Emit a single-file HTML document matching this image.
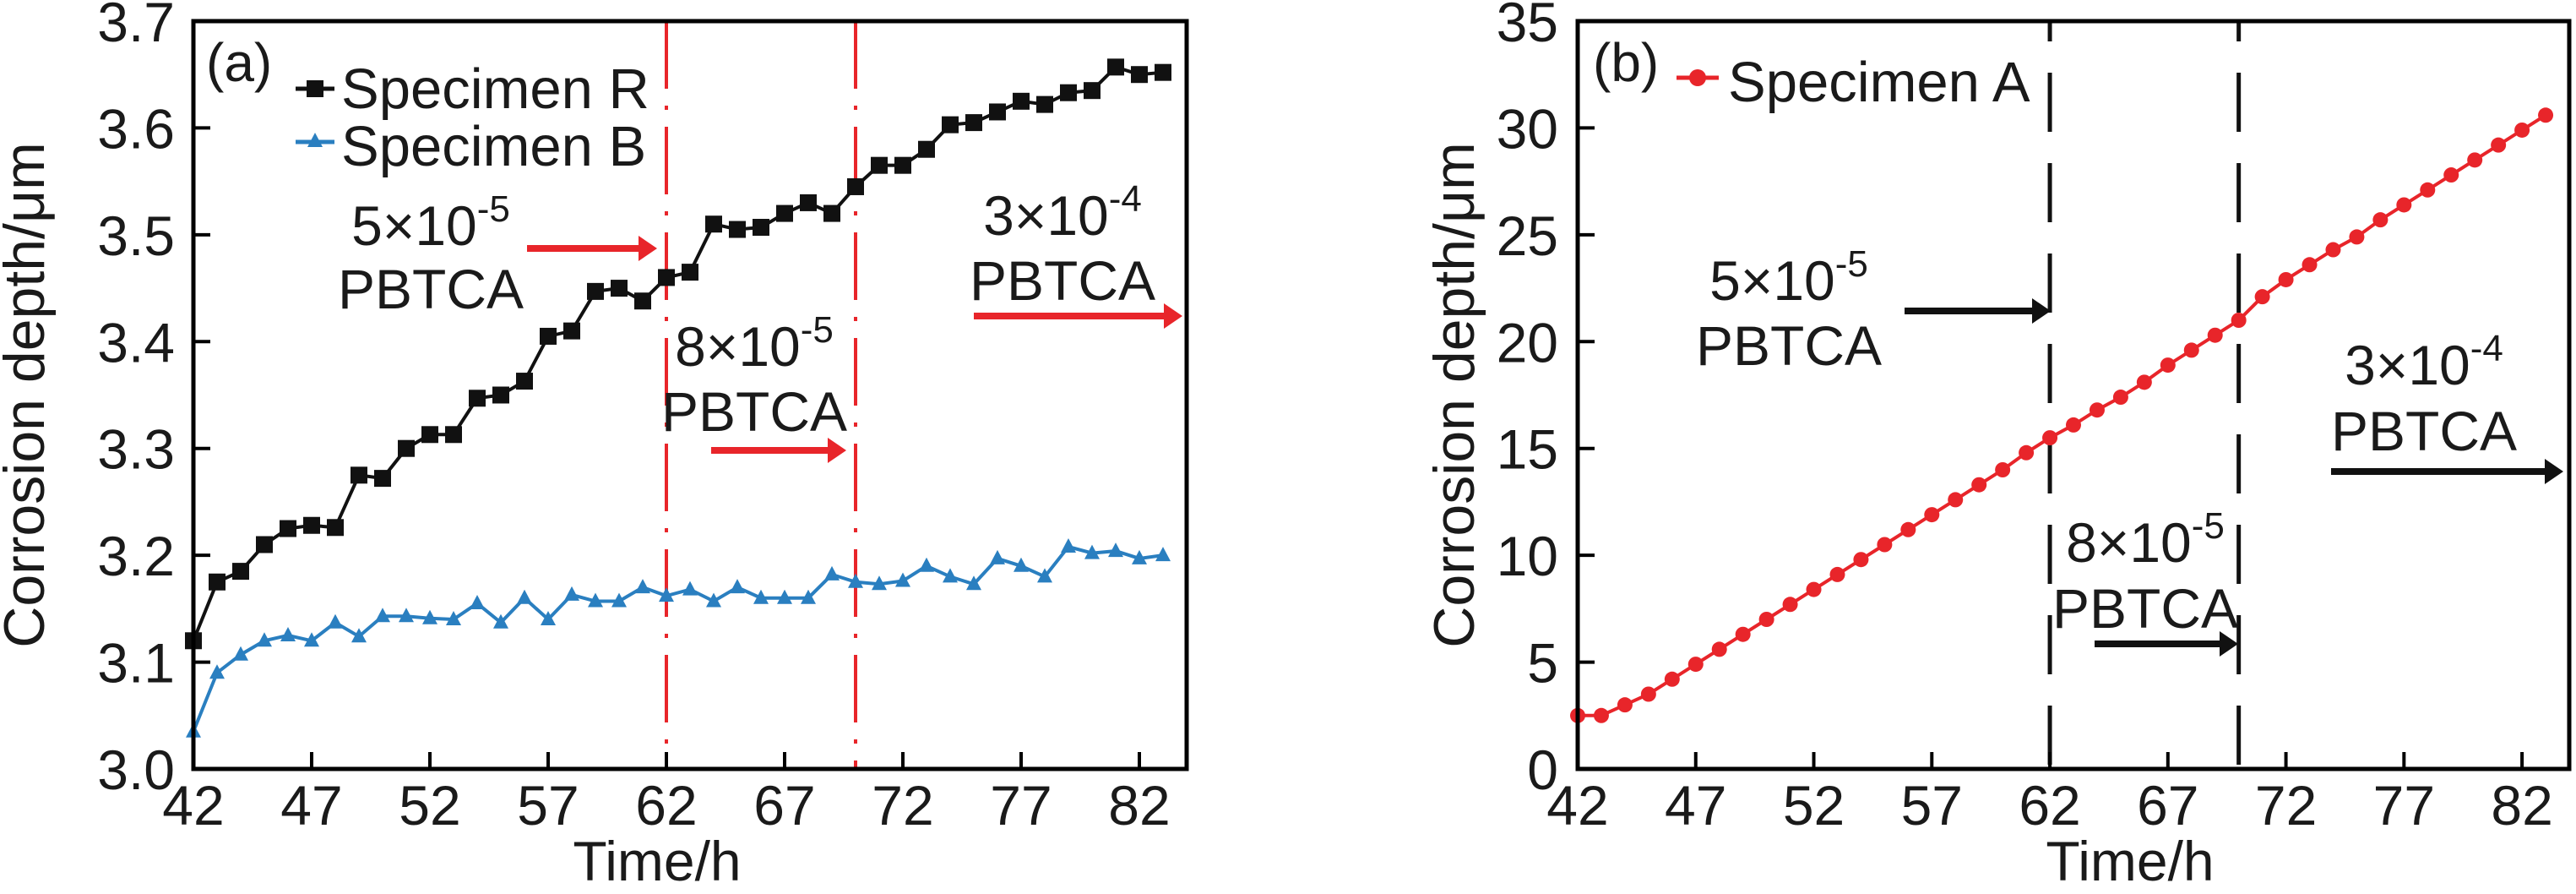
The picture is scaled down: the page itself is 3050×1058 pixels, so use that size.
<!DOCTYPE html>
<html><head><meta charset="utf-8"><style>
html,body{margin:0;padding:0;background:#fff;}
svg{display:block;font-family:"Liberation Sans",Arial,sans-serif;}
</style></head><body>
<svg id="chart" width="3050" height="1058" viewBox="0 0 3050 1058"></svg>
<script>
const hours = [42,43,44,45,46,47,48,49,50,51,52,53,54,55,56,57,58,59,60,61,62,63,64,65,66,67,68,69,70,71,72,73,74,75,76,77,78,79,80,81,82,83];
const specimenR = [3.12,3.175,3.185,3.21,3.225,3.228,3.226,3.275,3.272,3.30,3.313,3.313,3.347,3.35,3.363,3.405,3.41,3.447,3.45,3.438,3.46,3.465,3.51,3.505,3.507,3.52,3.53,3.52,3.545,3.565,3.565,3.58,3.603,3.605,3.615,3.625,3.622,3.633,3.635,3.657,3.65,3.652];
const specimenB = [3.035,3.09,3.107,3.12,3.125,3.12,3.137,3.124,3.143,3.143,3.141,3.14,3.155,3.137,3.16,3.14,3.163,3.157,3.157,3.17,3.162,3.168,3.157,3.17,3.16,3.16,3.16,3.182,3.175,3.173,3.176,3.19,3.18,3.173,3.197,3.19,3.18,3.208,3.202,3.204,3.197,3.2];
const specimenA = [2.5,2.5,3.0,3.5,4.2,4.9,5.6,6.3,7.0,7.7,8.4,9.1,9.8,10.5,11.2,11.9,12.6,13.3,14.0,14.8,15.5,16.1,16.8,17.4,18.1,18.9,19.6,20.3,21.0,22.1,22.9,23.6,24.3,24.9,25.7,26.4,27.1,27.8,28.5,29.2,29.9,30.6];
const xTicks = [42,47,52,57,62,67,72,77,82];
const yTicksA = [3.0,3.1,3.2,3.3,3.4,3.5,3.6,3.7];
const yTickLabelsA = ["3.0","3.1","3.2","3.3","3.4","3.5","3.6","3.7"];
const yTicksB = [0,5,10,15,20,25,30,35];
const dosingHours = [62,70];

const NS="http://www.w3.org/2000/svg";
const svg=document.getElementById('chart');
function mk(tag,attrs,parent){const e=document.createElementNS(NS,tag);for(const k in attrs)e.setAttribute(k,attrs[k]);(parent||svg).appendChild(e);return e;}

function panel(cfg){
  const g=mk('g',{});
  
  
  const X=v=>cfg.x0+(v-42)/(84-42)*(cfg.x1-cfg.x0);
  const Y=v=>cfg.y1-(v-cfg.ymin)/(cfg.ymax-cfg.ymin)*(cfg.y1-cfg.y0);
  dosingHours.forEach(h=>{
    const l=mk('line',{x1:X(h),x2:X(h),y1:cfg.y0,y2:cfg.y1,stroke:cfg.vcolor,'stroke-width':cfg.vwidth,'stroke-dasharray':cfg.vdash,'stroke-dashoffset':cfg.voff},g);
    
    
  });
  cfg.series.forEach(s=>{
    const sg=mk('g',{},g);
    
    
    mk('polyline',{points:hours.map((h,i)=>X(h)+','+Y(s.data[i])).join(' '),fill:'none',stroke:s.color,'stroke-width':4},sg);
    hours.forEach((h,i)=>{
      const x=X(h),y=Y(s.data[i]);let m;
      if(s.marker==='square')m=mk('rect',{x:x-10,y:y-10,width:20,height:20,fill:s.color},sg);
      else if(s.marker==='tri')m=mk('polygon',{points:`${x},${y-10} ${x-9},${y+7} ${x+9},${y+7}`,fill:s.color},sg);
      else m=mk('circle',{cx:x,cy:y,r:9,fill:s.color},sg);
      
      
    });
  });
  const f=mk('rect',{x:cfg.x0,y:cfg.y0,width:cfg.x1-cfg.x0,height:cfg.y1-cfg.y0,fill:'none',stroke:'#000','stroke-width':5},g);
  
  
  xTicks.forEach(t=>{
    mk('line',{x1:X(t),x2:X(t),y1:cfg.y1,y2:cfg.y1-20,stroke:'#000','stroke-width':4},g);
    const tx=mk('text',{x:X(t),y:cfg.y1+66,'font-size':66,'text-anchor':'middle',fill:'#1a1a1a'},g);
    tx.textContent=t;
    
    
  });
  cfg.yticks.forEach((t,i)=>{
    mk('line',{x1:cfg.x0,x2:cfg.x0+20,y1:Y(t),y2:Y(t),stroke:'#000','stroke-width':4},g);
    const ty=mk('text',{x:cfg.labelRight,y:Y(t)+24,'font-size':66,'text-anchor':'end',fill:'#1a1a1a'},g);
    ty.textContent=cfg.ylabels[i];
    
    
  });
  const yt=mk('text',{x:0,y:0,'font-size':68,'text-anchor':'middle',fill:'#1a1a1a',transform:`translate(${cfg.ytitleX},${(cfg.y0+cfg.y1)/2}) rotate(-90)`},g);
  yt.textContent='Corrosion depth/μm';
  
  
  const xt=mk('text',{x:cfg.xtitleX,y:1042,'font-size':66,'text-anchor':'middle',fill:'#1a1a1a'},g);
  xt.textContent='Time/h';
  
  
  return {g,X,Y};
}

function note(g,cx,b1,b2,mant,exp,arrow,color,name){
  const t1=mk('text',{x:cx,y:b1,'font-size':66,'text-anchor':'middle',fill:'#1a1a1a'},g);
  t1.innerHTML=mant+'<tspan font-size="44" dy="-28">'+exp+'</tspan>';
  
  
  const t2=mk('text',{x:cx,y:b2,'font-size':66,'text-anchor':'middle',fill:'#1a1a1a'},g);
  t2.textContent='PBTCA';
  
  
  const ag=mk('g',{},g);
  
  
  mk('line',{x1:arrow[0],x2:arrow[1]-18,y1:arrow[2],y2:arrow[2],stroke:color,'stroke-width':8},ag);
  mk('polygon',{points:`${arrow[1]},${arrow[2]} ${arrow[1]-22},${arrow[2]-15} ${arrow[1]-22},${arrow[2]+15}`,fill:color},ag);
}

const pa=panel({name:'panel-a',x0:229,x1:1405,y0:25,y1:910,ymin:3.0,ymax:3.7,yticks:yTicksA,ylabels:yTickLabelsA,labelRight:207,ytitleX:52,xtitleX:778,vcolor:'#e8252a',vwidth:4,vdash:'80 20 5 20',voff:0,
  series:[{name:'series-specimen-r',data:specimenR,color:'#111',marker:'square'},{name:'series-specimen-b',data:specimenB,color:'#2a7fc0',marker:'tri'}]});
const pb=panel({name:'panel-b',x0:1868,x1:3042,y0:25,y1:910,ymin:0,ymax:35,yticks:yTicksB,ylabels:yTicksB.map(String),labelRight:1845,ytitleX:1745,xtitleX:2522,vcolor:'#111',vwidth:5,vdash:'70 37',voff:46,
  series:[{name:'series-specimen-a',data:specimenA,color:'#e8252a',marker:'circle'}]});

function txt(g,x,y,s,str,name){const t=mk('text',{x:x,y:y,'font-size':s,fill:'#1a1a1a'},g);t.textContent=str;return t;}
txt(pa.g,244,96,64,'(a)','panel-label-a');
txt(pb.g,1886,96,64,'(b)','panel-label-b');
const la=mk('g',{},pa.g);


mk('line',{x1:350,x2:396,y1:105,y2:105,stroke:'#111','stroke-width':5},la);
mk('rect',{x:363,y:95,width:20,height:20,fill:'#111'},la);
txt(la,404,128,67,'Specimen R','legend-entry-specimen-r');
mk('line',{x1:350,x2:396,y1:168,y2:168,stroke:'#2a7fc0','stroke-width':5},la);
mk('polygon',{points:'373,157 364,174 382,174',fill:'#2a7fc0'},la);
txt(la,404,196,67,'Specimen B','legend-entry-specimen-b');
const lb=mk('g',{},pb.g);


mk('line',{x1:1985,x2:2035,y1:92,y2:92,stroke:'#e8252a','stroke-width':5},lb);
mk('circle',{cx:2010,cy:92,r:10,fill:'#e8252a'},lb);
txt(lb,2046,120,67,'Specimen A','legend-entry-specimen-a');

note(pa.g,510,290,365,'5×10','-5',[624,778,294],'#e8252a','note-5e-5');
note(pa.g,893,433,510,'8×10','-5',[842,1002,533],'#e8252a','note-8e-5');
note(pa.g,1258,278,355,'3×10','-4',[1153,1400,374],'#e8252a','note-3e-4');
note(pb.g,2118,355,432,'5×10','-5',[2255,2428,368],'#111','note-5e-5');
note(pb.g,2540,665,743,'8×10','-5',[2480,2650,762],'#111','note-8e-5');
note(pb.g,2870,455,533,'3×10','-4',[2760,3035,558],'#111','note-3e-4');
</script>
</body></html>
